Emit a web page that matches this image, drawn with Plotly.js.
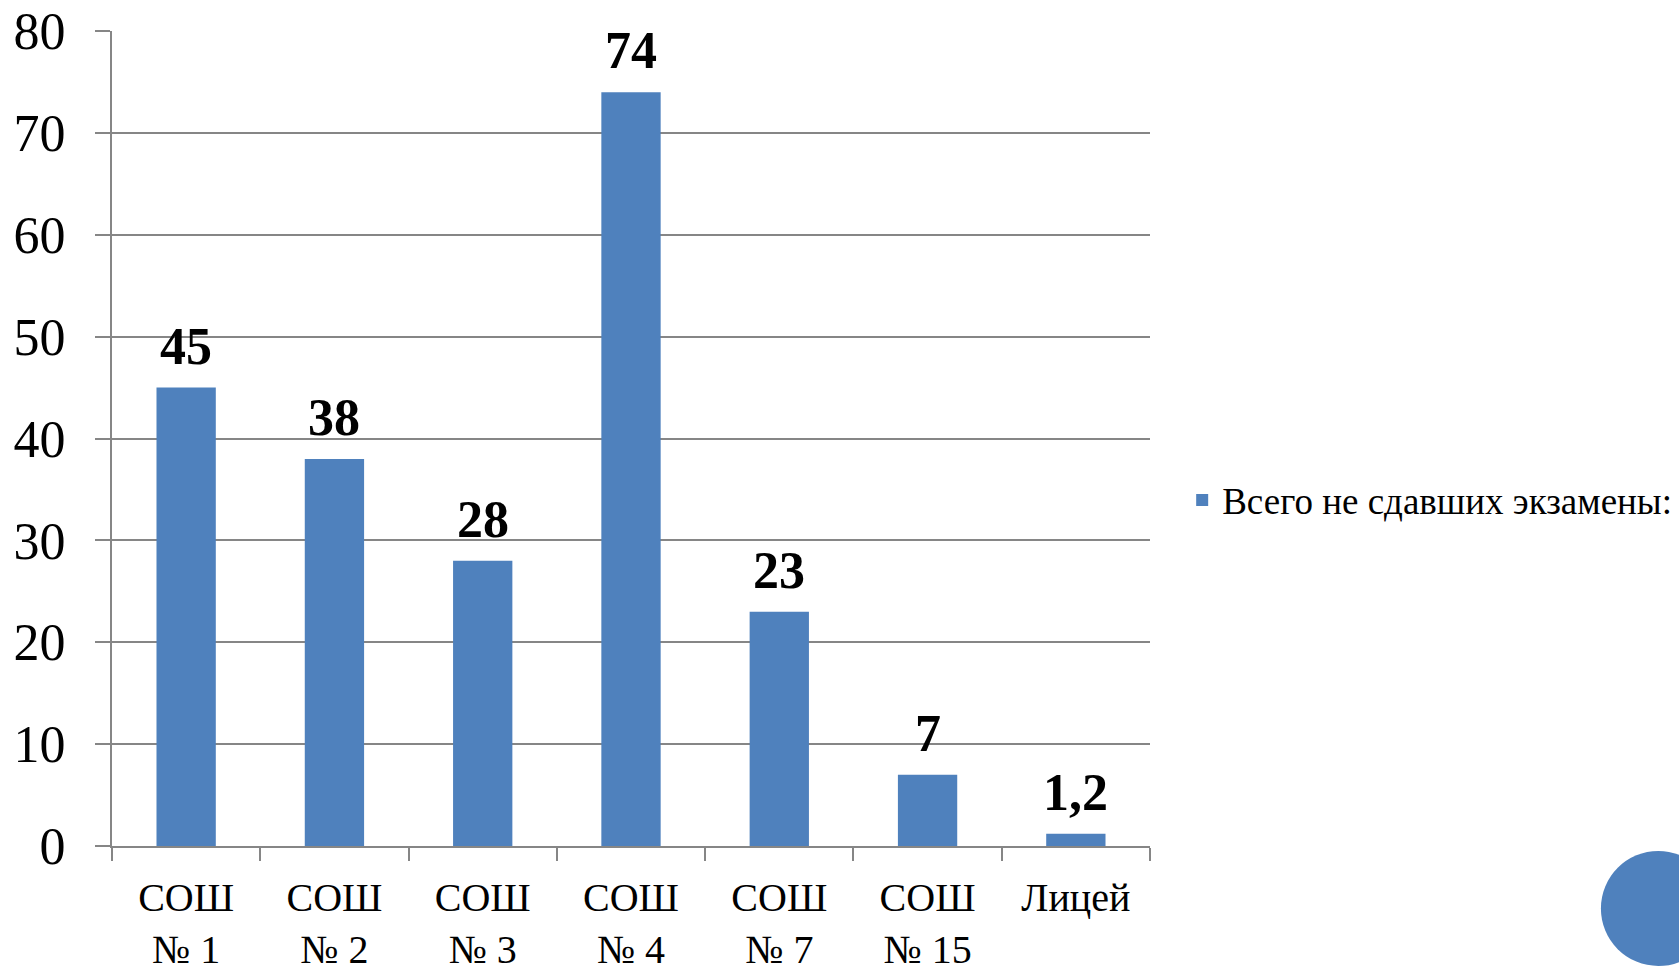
<!DOCTYPE html>
<html>
<head>
<meta charset="utf-8">
<script src="https://cdn.plot.ly/plotly-3.0.1.min.js"></script>
<style>html,body{margin:0;padding:0;background:#fff;}#chart{width:1679px;height:976px;}</style>
</head>
<body>
<div id="chart"></div>
<script>
var categories = ["СОШ<br>№ 1", "СОШ<br>№ 2", "СОШ<br>№ 3", "СОШ<br>№ 4", "СОШ<br>№ 7", "СОШ<br>№ 15", "Лицей"];
var values = [45, 38, 28, 74, 23, 7, 1.2];
var seriesName = "Всего не сдавших экзамены:";
var yTicks = [0, 10, 20, 30, 40, 50, 60, 70, 80];

var labels = values.map(function (v) { return String(v).replace('.', ','); });
var fontFam = '"Liberation Serif", "Times New Roman", serif';
var grey = '#868686';
var blue = '#4F81BD';

var trace = {
  type: 'bar',
  x: categories,
  y: values,
  name: seriesName,
  width: 0.4,
  marker: { color: blue },
  hoverinfo: 'x+y'
};

var annotations = categories.map(function (c, i) {
  return {
    x: c, y: values[i], xref: 'x', yref: 'y',
    text: '<b>' + labels[i] + '</b>',
    showarrow: false, yanchor: 'bottom', yshift: 11,
    font: { family: fontFam, size: 52, color: '#000' }
  };
});

var layout = {
  width: 1679, height: 976,
  margin: { l: 112, r: 529, t: 31, b: 130, autoexpand: false },
  paper_bgcolor: '#fff', plot_bgcolor: '#fff',
  font: { family: fontFam, color: '#000' },
  showlegend: true,
  legend: {
    x: 1.031, y: 0.424, xanchor: 'left', yanchor: 'middle',
    font: { family: fontFam, size: 37, color: '#000' },
    bgcolor: 'rgba(0,0,0,0)'
  },
  xaxis: {
    type: 'category',
    range: [-0.5, 6.5],
    automargin: false,
    showline: true, linecolor: grey, linewidth: 2,
    ticks: 'outside', tickson: 'boundaries', ticklen: 13, tickwidth: 2, tickcolor: grey,
    showgrid: false, zeroline: false,
    tickfont: { family: fontFam, size: 40, color: '#000' },
    ticklabelstandoff: 15
  },
  yaxis: {
    range: [0, 80],
    automargin: false,
    tickvals: yTicks,
    ticktext: yTicks.map(String),
    showline: true, linecolor: grey, linewidth: 2,
    ticks: 'outside', ticklen: 15, tickwidth: 2, tickcolor: grey,
    showgrid: true, gridcolor: grey, gridwidth: 2,
    zeroline: false,
    tickfont: { family: fontFam, size: 52, color: '#000' },
    ticklabelstandoff: 19
  },
  annotations: annotations,
  shapes: [{
    type: 'circle', xref: 'paper', yref: 'paper',
    x0: 1.4344, x1: 1.5451, y0: -0.1472, y1: -0.0061,
    fillcolor: blue, line: { width: 0 }, layer: 'above'
  }]
};

Plotly.newPlot('chart', [trace], layout, { displayModeBar: false });
</script>
</body>
</html>
